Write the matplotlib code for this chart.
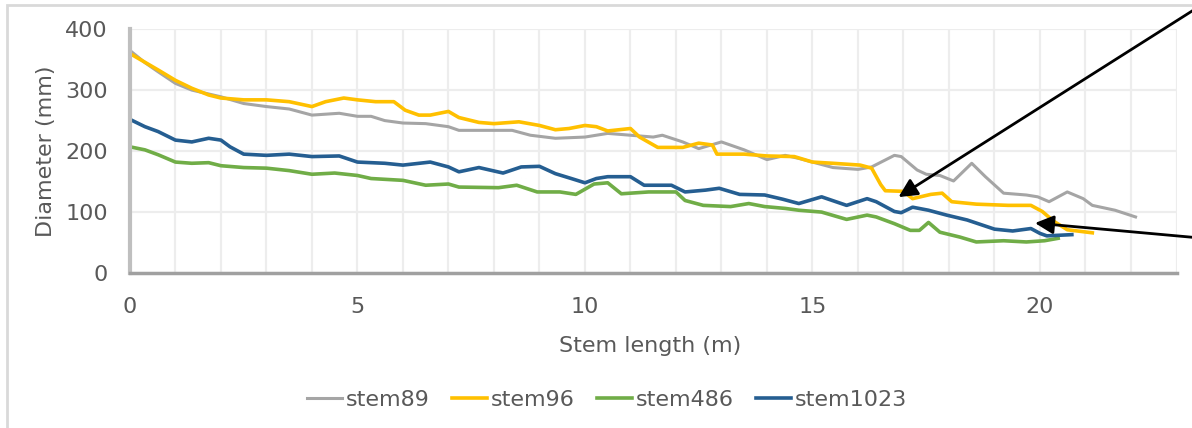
import matplotlib
matplotlib.use("Agg")
import matplotlib.pyplot as plt
from matplotlib.patches import Rectangle

plt.rcParams['font.family'] = ['DejaVu Sans']

# stem profiles, diameter (mm) along stem length (m)
x89 = [0, 0.33, 0.62, 1.0, 1.36, 2.0, 2.5, 3.0, 3.5, 4.0, 4.6, 5.0, 5.3, 5.6, 6.0, 6.5, 7.0, 7.23,
       7.67, 8.4, 8.8, 9.35, 10.0, 10.5, 11.0, 11.5, 11.7, 12.15, 12.5, 13.0, 13.5, 14.0, 14.4, 14.7,
       15.45, 16.0, 16.3, 16.8, 16.95, 17.3, 17.5, 17.8, 18.1, 18.5, 18.8, 19.2, 19.7, 19.95, 20.2,
       20.6, 20.95, 21.15, 21.65, 22.1]
d89 = [365, 345, 330, 311, 300, 289, 278, 273, 269, 259, 262, 257, 257, 250, 246, 245, 240, 234,
       234, 234, 226, 221, 223, 229, 226, 223, 226, 215, 204, 215, 202, 186, 193, 188,
       173, 170, 174, 193, 191, 169, 162, 160, 151, 180, 158, 131, 128, 125, 117,
       133, 122, 111, 103, 92]

x96 = [0, 0.62, 1.0, 1.36, 1.73, 2.0, 2.5, 3.0, 3.5, 4.0, 4.3, 4.7, 5.0, 5.4, 5.8, 6.05, 6.35, 6.6,
       7.0, 7.23, 7.67, 8.0, 8.55, 9.0, 9.35, 9.65, 10.0, 10.25, 10.5, 11.0, 11.2, 11.6, 12.15, 12.5,
       12.8, 12.9, 13.5, 14.0, 14.6, 15.0, 15.45, 16.05, 16.3, 16.5, 16.6, 17.0, 17.2, 17.6, 17.85,
       18.06, 18.6, 19.3, 19.8, 20.05, 20.3, 20.6, 21.15]
d96 = [360, 333, 316, 303, 292, 287, 284, 284, 281, 273, 281, 287, 284, 281, 281, 267, 259, 259,
       265, 255, 247, 245, 248, 242, 235, 237, 242, 240, 233, 237, 223, 206, 206, 213,
       210, 195, 195, 192, 191, 182, 180, 177, 172, 145, 135, 134, 122, 129, 131,
       117, 113, 111, 111, 101, 85, 71, 66]

x486 = [0, 0.33, 0.62, 1.0, 1.36, 1.73, 2.0, 2.5, 3.0, 3.5, 4.0, 4.5, 5.0, 5.3, 6.0, 6.5, 7.0, 7.23,
        8.1, 8.5, 8.95, 9.45, 9.8, 10.2, 10.5, 10.8, 11.4, 12.0, 12.2, 12.6, 13.2, 13.6, 13.95, 14.4,
        14.7, 15.2, 15.75, 16.2, 16.4, 16.8, 17.15, 17.35, 17.55, 17.8, 18.24, 18.6, 19.2, 19.7,
        20.1, 20.4]
d486 = [207, 202, 194, 182, 180, 181, 176, 173, 172, 168, 162, 164, 160, 155, 152, 144, 146, 141,
        140, 144, 133, 133, 129, 146, 148, 130, 133, 133, 119, 111, 109, 114, 109, 106,
        103, 100, 88, 95, 92, 81, 70, 70, 83, 67, 59, 51, 53, 51,
        53, 57]

x1023 = [0, 0.33, 0.62, 1.0, 1.36, 1.73, 2.0, 2.2, 2.5, 3.0, 3.5, 4.0, 4.6, 5.0, 5.6, 6.0, 6.6, 7.0,
         7.23, 7.67, 8.2, 8.6, 9.0, 9.35, 9.7, 10.0, 10.25, 10.5, 11.0, 11.3, 11.9, 12.2, 12.65,
         12.95, 13.4, 13.95, 14.35, 14.7, 15.2, 15.75, 16.2, 16.4, 16.8, 16.95, 17.2, 17.55, 17.95,
         18.4, 19.0, 19.4, 19.8, 20.0, 20.15, 20.7]
d1023 = [252, 240, 232, 218, 215, 221, 218, 207, 195, 193, 195, 191, 192, 182, 180, 177, 182, 174,
         166, 173, 164, 174, 175, 163, 155, 148, 155, 158, 158, 144, 144, 133, 136,
         139, 129, 128, 121, 114, 125, 111, 122, 117, 101, 99, 108, 103, 95,
         87, 72, 69, 73, 65, 61, 63]

names = ['stem89', 'stem96', 'stem486', 'stem1023']
colors = ['#a5a5a5', '#ffc000', '#70ad47', '#255e91']
txt = '#595959'

fig = plt.figure(figsize=(11.92, 4.28), dpi=100)
ax = fig.add_axes([0.109, 0.362, 0.878, 0.570])

# light chart border
fig.patches.append(Rectangle((7 / 1192, -0.05), 1.1, 0.05 + 1 - 5 / 428, transform=fig.transFigure,
                             fill=False, edgecolor='#d9d9d9', lw=2))

for xs, ds, n, c in zip([x89, x96, x486, x1023], [d89, d96, d486, d1023], names, colors):
    ax.plot(xs, ds, color=c, lw=2.6 if n != 'stem89' else 2.2, label=n)

ax.set_xlim(0, 23)
ax.set_ylim(0, 400)
ax.set_xticks([0, 5, 10, 15, 20])
ax.set_xticks(range(0, 24), minor=True)
ax.set_yticks([0, 100, 200, 300, 400])
ax.grid(True, which='both', color='#ededed', lw=1.6)
ax.set_axisbelow(True)
ax.tick_params(which='both', length=0)
ax.tick_params(axis='x', pad=17, labelsize=16, labelcolor=txt)
ax.tick_params(axis='y', pad=16, labelsize=16, labelcolor=txt)
for s in ['top', 'right']:
    ax.spines[s].set_visible(False)
ax.spines['left'].set_color('#bfbfbf')
ax.spines['left'].set_linewidth(3)
ax.spines['bottom'].set_color('#a0a0a0')
ax.spines['bottom'].set_linewidth(2.5)

ax.set_xlabel('Stem length (m)', fontsize=16, color=txt)
ax.xaxis.label.set_va('center')
ax.xaxis.set_label_coords(0.497, -0.297)
ax.set_ylabel('Diameter (mm)', fontsize=16, color=txt)
ax.yaxis.label.set_va('center')
ax.yaxis.set_label_coords(-0.08, 0.5)

fig.legend(loc='center', bbox_to_anchor=(0.509, 0.065), ncol=4, frameon=False, fontsize=16,
           handlelength=1.6, handletextpad=0.15, columnspacing=1.0, labelcolor=txt)

ap = dict(arrowstyle='-|>', color='black', lw=2, mutation_scale=28, shrinkA=0, shrinkB=0)
ax.annotate('', xy=(16.89, 124.6), xytext=(1.0067, 0.986), textcoords='figure fraction',
            arrowprops=ap, annotation_clip=False)
ax.annotate('', xy=(19.89, 82), xytext=(1.0067, 0.444), textcoords='figure fraction',
            arrowprops=ap, annotation_clip=False)

fig.savefig('out.png', dpi=100)
